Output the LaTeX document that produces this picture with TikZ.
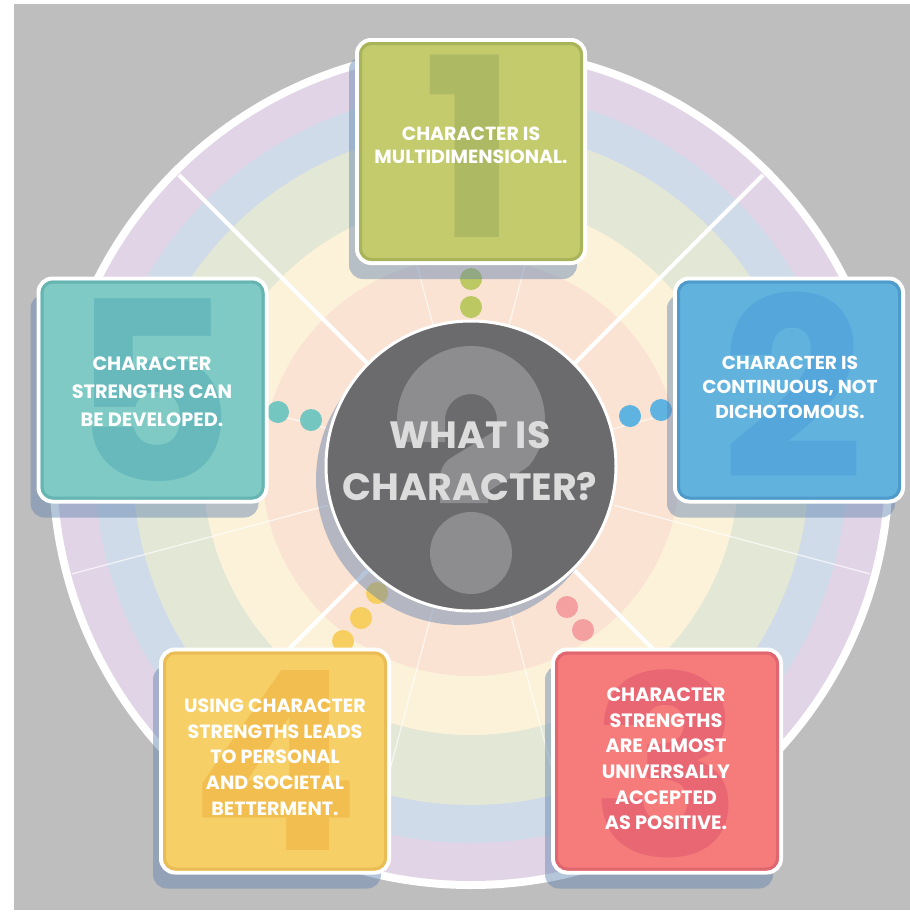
\documentclass[tikz,border=0pt]{standalone}
\usepackage{fontspec}
\setmainfont{Poppins}
\usetikzlibrary{shadows}

% palette
\definecolor{pagegray}{HTML}{BEBEBE}
\definecolor{ringlav}{HTML}{E2D4E7}
\definecolor{ringblue}{HTML}{CFDBE9}
\definecolor{ringgreen}{HTML}{E3E7D5}
\definecolor{ringyellow}{HTML}{FCF2D9}
\definecolor{ringpeach}{HTML}{FAE3D3}
\definecolor{shadowc}{HTML}{5F82AD}
\definecolor{hubfill}{HTML}{6B6B6D}
\definecolor{hubmark}{HTML}{8D8D8F}
\definecolor{hubtext}{HTML}{DCDCDC}
% cards: fill / rim / big numeral
\definecolor{gfill}{HTML}{C3CB6C}\definecolor{grim}{HTML}{A9B45A}\definecolor{gnum}{HTML}{AEB963}
\definecolor{bfill}{HTML}{62B2DE}\definecolor{brim}{HTML}{4E9BCB}\definecolor{bnum}{HTML}{55A6DB}
\definecolor{rfill}{HTML}{F67C7C}\definecolor{rrim}{HTML}{E06670}\definecolor{rnum}{HTML}{E86773}
\definecolor{yfill}{HTML}{F6D067}\definecolor{yrim}{HTML}{E9BC55}\definecolor{ynum}{HTML}{F2BE50}
\definecolor{tfill}{HTML}{7FCAC4}\definecolor{trim}{HTML}{67B5B3}\definecolor{tnum}{HTML}{67B9BC}
\definecolor{gdot}{HTML}{BCC862}\definecolor{bdot}{HTML}{5FB3E0}\definecolor{rdot}{HTML}{F4A0A0}
\definecolor{ydot}{HTML}{F6CF60}\definecolor{tdot}{HTML}{74C6C1}

\begin{document}
\begin{tikzpicture}[x=1pt,y=-1pt,
  card/.style={rounded corners=14, draw=white, line width=4,
    minimum width=228, minimum height=223, inner sep=0,
    drop shadow={shadow xshift=-8pt, shadow yshift=-16pt, fill=shadowc, opacity=.45}},
  cardrim/.style={rounded corners=11, line width=3, fill=none,
    minimum width=221, minimum height=216, inner sep=0},
  numeral/.style={inner sep=0, font=\bfseries\fontsize{250}{250}\selectfont},
  cardtext/.style 2 args={text=white, align=center, inner sep=0,
    font=\bfseries\fontsize{#1}{#2}\selectfont},
  linkdot/.style={circle, inner sep=0, minimum size=22},
  spoke/.style={white, line width=4},
  divider/.style={white, line width=1.2, opacity=.7},
]
\useasboundingbox (0,0) rectangle (910,913);
\fill[white] (0,0) rectangle (910,913);
\fill[pagegray] (14,4) rectangle (910,910);

% concentric bands
\coordinate (c) at (471,467);
\fill[white] (c) circle[radius=422];
\fill[ringlav] (c) circle[radius=414];
\fill[ringblue] (c) circle[radius=376];
\fill[ringgreen] (c) circle[radius=338];
\fill[ringyellow] (c) circle[radius=268];
\fill[ringpeach] (c) circle[radius=209];

% radial dividers
\begin{scope}[shift={(471,467)}]
  \foreach \a in {15,75,105,165,195,255,285,345}
    \draw[divider] (\a:148) -- (\a:413);
  \foreach \a in {45,135,225,315}
    \draw[spoke] (\a:146) -- (\a:413);
\end{scope}

% link dots between the cards and the hub
\node[linkdot, fill=gdot] (d1a) at (471,279) {};
\node[linkdot, fill=gdot] (d1b) at (471,307) {};
\node[linkdot, fill=bdot] (d2a) at (630,416) {};
\node[linkdot, fill=bdot] (d2b) at (661,410) {};
\node[linkdot, fill=rdot] (d3a) at (567,607) {};
\node[linkdot, fill=rdot] (d3b) at (583,630) {};
\node[linkdot, fill=ydot] (d4a) at (377,593) {};
\node[linkdot, fill=ydot] (d4b) at (361,618) {};
\node[linkdot, fill=ydot] (d4c) at (343,641) {};
\node[linkdot, fill=tdot] (d5a) at (278,412) {};
\node[linkdot, fill=tdot] (d5b) at (311,420) {};

% card 1
\node[card, fill=gfill] (b1) at (471,151.5) {};
\node[cardrim, draw=grim] (b1r) at (b1) {};
\node[numeral, text=gnum] (n1) at (470,146) {1};
\node[cardtext={19}{23}] (t1) at (471,145) {CHARACTER IS\\MULTIDIMENSIONAL.};

% card 2
\node[card, fill=bfill] (b2) at (789,390) {};
\node[cardrim, draw=brim] (b2r) at (b2) {};
\node[numeral, text=bnum] (n2) at (793,385) {2};
\node[cardtext={18.7}{24.5}] (t2) at (790,387) {CHARACTER IS\\CONTINUOUS, NOT\\DICHOTOMOUS.};

% card 3
\node[card, fill=rfill] (b3) at (667,761) {};
\node[cardrim, draw=rrim] (b3r) at (b3) {};
\node[numeral, text=rnum] (n3) at (667,764) {3};
\node[cardtext={19.3}{25.6}] (t3) at (666,759) {CHARACTER\\STRENGTHS\\ARE ALMOST\\UNIVERSALLY\\ACCEPTED\\AS POSITIVE.};

% card 4
\node[card, fill=yfill] (b4) at (275,761) {};
\node[cardrim, draw=yrim] (b4r) at (b4) {};
\node[numeral, text=ynum] (n4) at (275,760) {4};
\node[cardtext={19.1}{25.7}] (t4) at (275,757) {USING CHARACTER\\STRENGTHS LEADS\\TO PERSONAL\\AND SOCIETAL\\BETTERMENT.};

% card 5
\node[card, fill=tfill] (b5) at (152.5,390) {};
\node[cardrim, draw=trim] (b5r) at (b5) {};
\node[numeral, text=tnum] (n5) at (153,390) {5};
\node[cardtext={19.3}{28}] (t5) at (152,392) {CHARACTER\\STRENGTHS CAN\\BE DEVELOPED.};

% hub with its question mark
\node[circle, fill=hubfill, draw=white, line width=3, minimum size=290, inner sep=0,
  drop shadow={shadow xshift=-10pt, shadow yshift=-14pt, fill=shadowc, opacity=.45}] (hub) at (471,466) {};
\draw[hubmark, line width=48, line join=round]
  (421,442) -- (421,420) arc[start angle=180, end angle=395, radius=50]
  -- (464,478) -- (464,503);
\fill[hubmark] (471,553) circle[radius=41];
\node[text=hubtext, align=center, inner sep=0,
  font=\bfseries\fontsize{38}{52}\selectfont] (q) at (470,461) {WHAT IS\\CHARACTER?};
\end{tikzpicture}
\end{document}
